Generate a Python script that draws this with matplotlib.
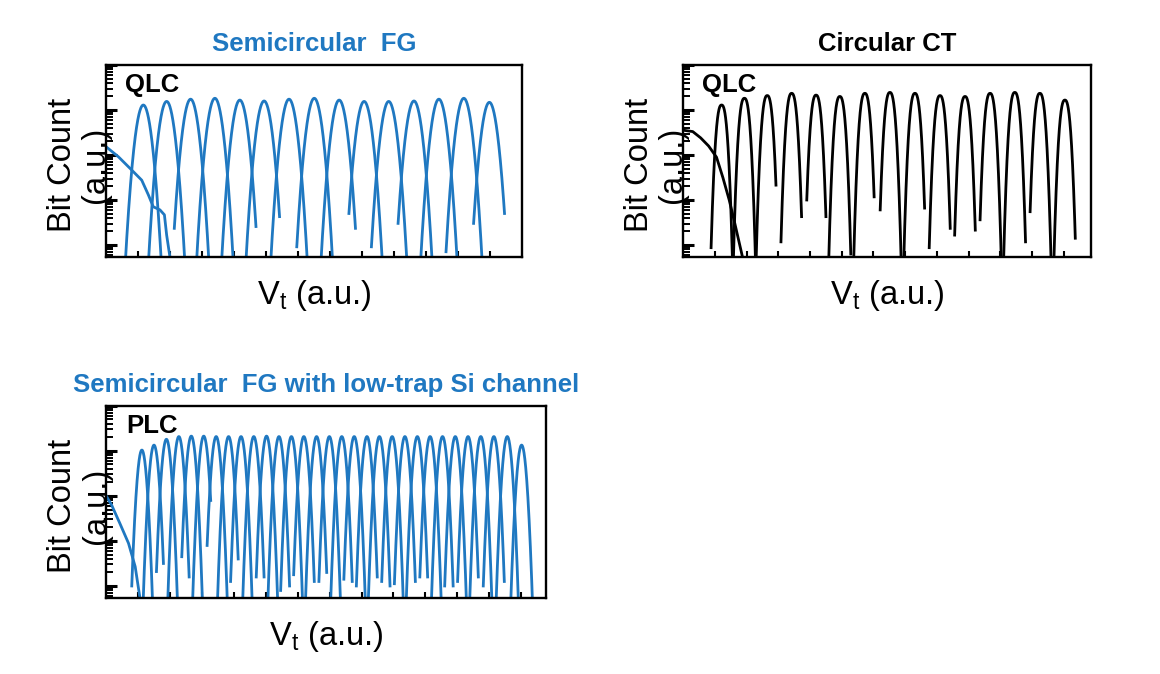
import numpy as np
import matplotlib
matplotlib.use('Agg')
import matplotlib.pyplot as plt
from matplotlib.ticker import LogLocator, NullLocator

plt.rcParams['font.family'] = ['Liberation Sans', 'DejaVu Sans']
plt.rcParams['mathtext.fontset'] = 'custom'
plt.rcParams['mathtext.rm'] = 'Liberation Sans'
plt.rcParams['mathtext.it'] = 'Liberation Sans'

BLUE = '#1f78c1'
BOTTOM = -0.6   # tail runs off the bottom of the axes

# ---- Semicircular FG, QLC (x in tick units, y as log10 of count) ----
fg_centers = [1.16, 1.89, 2.64, 3.40, 4.18, 4.94, 5.72, 6.51, 7.29, 8.07, 8.84, 9.63, 10.41, 11.19, 11.99]
fg_peaks = [3.11, 3.19, 3.24, 3.26, 3.22, 3.20, 3.24, 3.26, 3.22, 3.19, 3.19, 3.20, 3.24, 3.26, 3.17]
fg_left = [BOTTOM, BOTTOM, 0.37, BOTTOM, BOTTOM, BOTTOM, BOTTOM, -0.04, BOTTOM, 0.70, -0.04, 0.48, BOTTOM, -0.15, 0.48]
fg_right = [BOTTOM, BOTTOM, BOTTOM, BOTTOM, 0.41, 0.63, BOTTOM, BOTTOM, 0.37, BOTTOM, BOTTOM, BOTTOM, BOTTOM, BOTTOM, 0.70]
fg_erase_x = [0.0, 0.38, 0.79, 1.11, 1.32, 1.47, 1.68, 1.82, 1.89, 2.0]
fg_erase_y = [2.18, 1.96, 1.67, 1.44, 1.11, 0.85, 0.78, 0.67, 0.22, -0.30]

# ---- Circular CT, QLC ----
ct_centers = [1.21, 1.93, 2.65, 3.42, 4.19, 4.94, 5.73, 6.52, 7.31, 8.10, 8.89, 9.68, 10.46, 11.25, 12.04]
ct_peaks = [3.11, 3.26, 3.32, 3.37, 3.33, 3.30, 3.37, 3.39, 3.37, 3.32, 3.30, 3.37, 3.39, 3.37, 3.22]
ct_left = [-0.06, BOTTOM, BOTTOM, 0.07, 1.0, BOTTOM, BOTTOM, 0.78, BOTTOM, -0.06, 0.22, 0.56, BOTTOM, 0.74, BOTTOM]
ct_right = [BOTTOM, BOTTOM, 1.33, 0.63, 0.63, -0.2, 1.07, BOTTOM, 0.82, 0.37, 0.33, BOTTOM, 0.07, BOTTOM, 0.15]
ct_erase_x = [0.0, 0.3, 0.55, 0.8, 1.05, 1.25, 1.45, 1.62, 1.75, 1.88]
ct_erase_y = [2.55, 2.52, 2.38, 2.2, 1.95, 1.5, 1.0, 0.5, 0.1, -0.3]

# ---- Semicircular FG with low-trap Si channel, PLC ----
plc_centers = [1.11, 1.49, 1.88, 2.27, 2.66, 3.05, 3.44, 3.83, 4.22, 4.62, 5.02, 5.41, 5.80, 6.19,
               6.59, 6.99, 7.38, 7.77, 8.17, 8.56, 8.96, 9.36, 9.75, 10.15, 10.54, 10.94, 11.34,
               11.74, 12.15, 12.57, 13.02]
plc_peaks = [3.02, 3.13, 3.26, 3.32, 3.33, 3.33, 3.32, 3.32, 3.32, 3.32, 3.33, 3.32, 3.32, 3.32,
             3.32, 3.32, 3.32, 3.32, 3.32, 3.32, 3.32, 3.32, 3.32, 3.32, 3.32, 3.32, 3.32,
             3.32, 3.32, 3.32, 3.13]
plc_left = [0.0, BOTTOM, 0.32, BOTTOM, 0.65, BOTTOM, 0.9, BOTTOM, 0.1, BOTTOM, 0.2, BOTTOM, -0.1, 0.25,
            BOTTOM, 0.1, BOTTOM, 0.15, 0.0, BOTTOM, 0.1, 0.05, BOTTOM, 0.2, BOTTOM, 0.0, 0.1,
            BOTTOM, 0.0, BOTTOM, BOTTOM]
plc_right = [BOTTOM, 0.5, BOTTOM, 0.2, BOTTOM, 1.9, BOTTOM, 0.6, BOTTOM, 0.2, BOTTOM, 0.0, BOTTOM, 0.1,
             0.3, BOTTOM, 0.1, BOTTOM, 0.2, 0.0, BOTTOM, 0.1, 0.2, BOTTOM, 0.0, BOTTOM, 0.2,
             BOTTOM, 0.1, BOTTOM, BOTTOM]
plc_erase_x = [0.0, 0.16, 0.42, 0.69, 0.90, 1.05]
plc_erase_y = [1.99, 1.80, 1.39, 0.95, 0.43, -0.27]


def draw_peak(ax, c, h, lo_l, lo_r, k, color, p):
    dl = ((h - lo_l) / k) ** (1 / p)
    dr = ((h - lo_r) / k) ** (1 / p)
    x = np.linspace(c - dl, c + dr, 200)
    logy = h - k * np.abs(x - c) ** p
    ax.plot(x, 10 ** logy, color=color, lw=2.0)


def style(ax, xmax, title, tcolor, tag):
    ax.set_yscale('log')
    ax.set_ylim(10 ** -0.267, 1e4)
    ax.set_xlim(0, xmax)
    ax.set_xticks(np.arange(1, np.ceil(xmax)))
    ax.xaxis.set_minor_locator(NullLocator())
    ax.yaxis.set_major_locator(LogLocator(base=10, numticks=12))
    ax.yaxis.set_minor_locator(LogLocator(base=10, subs=np.arange(2, 10), numticks=12))
    ax.tick_params(axis='x', which='major', direction='in', length=4, width=1.5,
                   top=False, labelbottom=False)
    ax.tick_params(axis='y', which='major', direction='in', length=8, width=2.2,
                   right=False, labelleft=False)
    ax.tick_params(axis='y', which='minor', direction='in', length=5, width=1.4, right=False)
    for s in ax.spines.values():
        s.set_linewidth(1.7)
    ax.set_title(title, color=tcolor, fontsize=18.5, fontweight='bold', pad=10)
    ax.text(0.045, 0.895, tag, transform=ax.transAxes, fontsize=18.5,
            fontweight='bold', ha='left', va='center')
    ax.set_xlabel(r'V$_\mathregular{t}$ (a.u.)', fontsize=23.5, labelpad=15)
    ax.set_ylabel('Bit Count\n(a.u.)', fontsize=23.5, linespacing=1.1)
    ax.yaxis.set_label_coords(0.012, 0.48)


fig = plt.figure(figsize=(11.6, 6.74), dpi=100)
ax1 = fig.add_axes([0.0916, 0.6187, 0.3581, 0.2849])
ax2 = fig.add_axes([0.5890, 0.6187, 0.3517, 0.2849])
ax3 = fig.add_axes([0.0918, 0.1128, 0.3793, 0.2849])

# panel 1
ax1.plot(fg_erase_x, 10 ** np.array(fg_erase_y), color=BLUE, lw=2.0)
for c, h, l, r in zip(fg_centers, fg_peaks, fg_left, fg_right):
    draw_peak(ax1, c, h, l, r, 11, BLUE, 2.0)
style(ax1, 13.0, 'Semicircular  FG', BLUE, 'QLC')

# panel 2
ax2.plot(ct_erase_x, 10 ** np.array(ct_erase_y), color='black', lw=2.0)
for c, h, l, r in zip(ct_centers, ct_peaks, ct_left, ct_right):
    draw_peak(ax2, c, h, l, r, 50, 'black', 2.5)
style(ax2, 12.87, 'Circular CT', 'black', 'QLC')

# panel 3
ax3.plot(plc_erase_x, 10 ** np.array(plc_erase_y), color=BLUE, lw=2.0)
for c, h, l, r in zip(plc_centers, plc_peaks, plc_left, plc_right):
    draw_peak(ax3, c, h, l, r, 30, BLUE, 2.0)
style(ax3, 13.8, 'Semicircular  FG with low-trap Si channel', BLUE, 'PLC')

fig.savefig('out.png', dpi=100)
